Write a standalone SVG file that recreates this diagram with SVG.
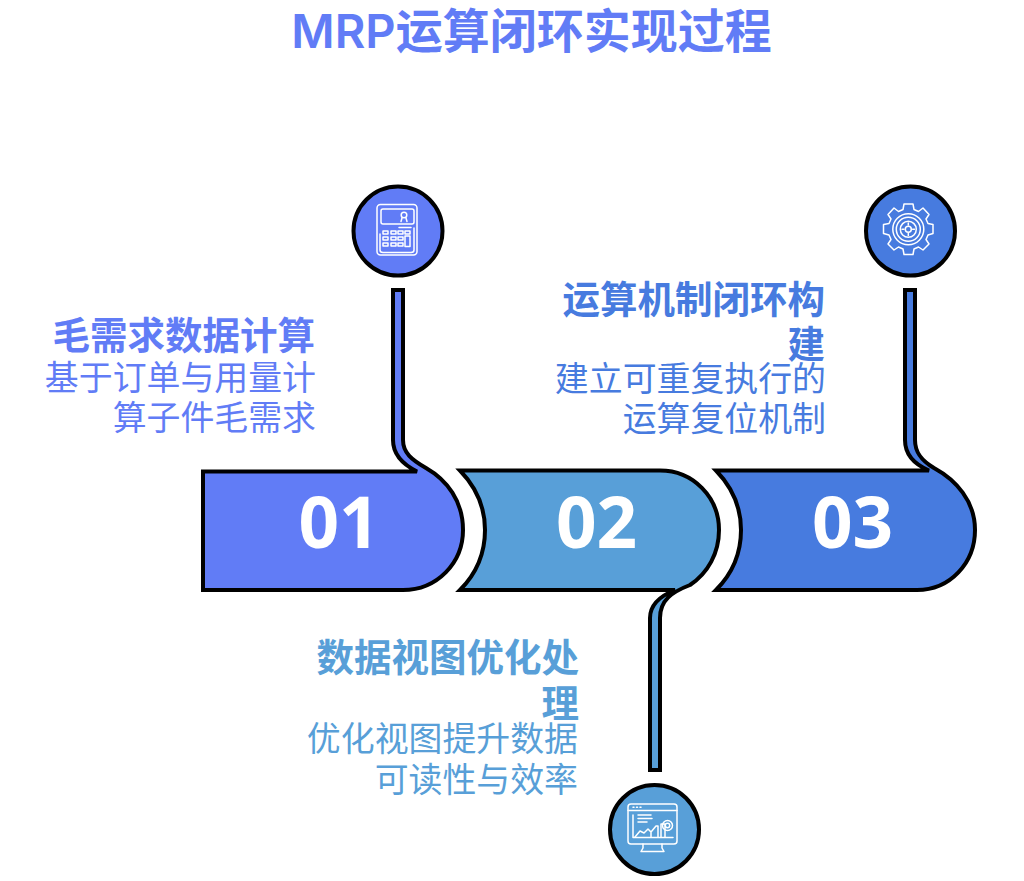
<svg xmlns="http://www.w3.org/2000/svg" width="1024" height="881" viewBox="0 0 1024 881">
<style>
.s{stroke:#000;stroke-width:4;stroke-linejoin:miter}
.a{fill:#617CF6}.b{fill:#589FD8}.c{fill:#477BDF}
.i{fill:none;stroke:#fff;stroke-width:1.5;stroke-linejoin:round;stroke-linecap:round}
text{font-family:"Noto Sans CJK SC","Noto Sans",sans-serif}
.t{font-family:Inter,"Noto Sans CJK SC",sans-serif;font-size:47px;font-weight:600;text-anchor:middle}
.h{font-size:37.5px;font-weight:700;text-anchor:end}
.d{font-size:33.9px;font-weight:400;text-anchor:end}
.n{font-family:"Open Sans","Noto Sans",sans-serif;font-size:71px;font-weight:700;fill:#fff;text-anchor:middle}
</style>
<rect width="1024" height="881" fill="#fff"/>
<text class="t a" x="531.500" y="48">MRP运算闭环实现过程</text>
<g id="connectors">
<path class="s a" d="M393 290V440C393 456 404 465 417 471.500H203V590H403C437 590 463 563 463 530C463 501 447 480 426 468C412 460 403 453 403 440V290Z"/>
<path class="s b" d="M460 470.500H660C693 470.500 719 497 719 530C719 553 708 573 690 585C672 592 660 600 660 618V770H650V618C650 604 660 596 675 590H460C476 574 485 553 485 530C485 507 476 487 460 470.500Z"/>
<path class="s c" d="M905 290V440C905 456 916 465 929 470.500H716C732 487 741 507 741 530C741 553 732 574 716 590H917C950 590 975 563 975 530C975 501 956 480 934 468C922 461 915 453 915 440V290Z"/>
</g>
<g id="node-1">
<circle class="s a" cx="398" cy="231" r="44.500"/>
<g class="i">
<rect x="377" y="204.500" width="40" height="50.500" rx="3.500"/>
<rect x="381" y="209" width="33" height="15" rx="2"/>
<circle cx="404" cy="215" r="2.800"/><path d="M402 218L401 221.500M406 218L407 221.500M399 227.500H411"/>
<path d="M380 234V250Q380 252.500 383 252.500H411Q414 252.500 414 250V228"/>
<rect x="383" y="231" width="5" height="3"/><rect x="391" y="231" width="5" height="3"/><rect x="398" y="231" width="5" height="3"/><rect x="405" y="231" width="5" height="3"/>
<rect x="383" y="237" width="5" height="3"/><rect x="391" y="237" width="5" height="3"/><rect x="398" y="237" width="5" height="3"/>
<rect x="383" y="243" width="5" height="3"/><rect x="391" y="243" width="5" height="3"/><rect x="398" y="243" width="5" height="3"/>
<rect x="405" y="236" width="5" height="10.500"/>
</g>
</g>
<g id="node-2">
<circle class="s b" cx="654.500" cy="829.500" r="44.500"/>
<g class="i">
<rect x="628" y="804" width="49" height="40" rx="3"/>
<path d="M628 810.500H677M633 807.300H634M636.500 807.300H637.500M640 807.300H641M633 815V837.500H673M638 815H651M638 818.500H652M638 822H647"/>
<path d="M635 837L640 831L644 833L648 829L651 832L656 826L658 826V837M651 832V837M661 824L665 824V837M661 824V837"/>
<circle cx="667.500" cy="825.500" r="5"/><circle cx="667.500" cy="825.500" r="2.200"/>
<path d="M643 844V848L641 851.500H664L662 848V844"/>
</g>
</g>
<g id="node-3">
<circle class="s c" cx="910.500" cy="231" r="44.500"/>
<g class="i">
<path d="M904 204H913L914 209.500L918.500 211.500L923 208L929 214.500L926 219L928 223.500L933 224.500V233.500L928 235L926 239.500L929 244L923 250L918.500 247L914 249L913 254.500H904L903 249L898.500 247L894 250L888 244L891 239.500L889 235L883.500 233.500V224.500L889 223.500L891 219L888 214.500L894 208L898.500 211.500L903 209.500Z"/>
<circle cx="908.300" cy="229.300" r="15.500"/><circle cx="908.300" cy="229.300" r="12"/><circle cx="908.300" cy="229.300" r="8"/><circle cx="908.300" cy="229.300" r="3"/>
<path d="M908.300 223V225M908.300 233.500V235.500M902 229.300H904M912.500 229.300H914.500"/>
</g>
</g>
<g id="label-1">
<text class="h a" x="315" y="349">毛需求数据计算</text>
<text class="d a" x="316" y="390">基于订单与用量计</text>
<text class="d a" x="316" y="430">算子件毛需求</text>
</g>
<g id="label-2">
<text class="h b" x="579" y="671">数据视图优化处</text>
<text class="h b" x="579" y="717">理</text>
<text class="d b" x="578" y="751">优化视图提升数据</text>
<text class="d b" x="578" y="792">可读性与效率</text>
</g>
<g id="label-3">
<text class="h c" x="825" y="313">运算机制闭环构</text>
<text class="h c" x="825" y="358">建</text>
<text class="d c" x="826" y="391">建立可重复执行的</text>
<text class="d c" x="826" y="431">运算复位机制</text>
</g>
<text class="n" id="num-1" x="339" y="548">01</text>
<text class="n" id="num-2" x="596.500" y="548">02</text>
<text class="n" id="num-3" x="852.500" y="548">03</text>
</svg>
